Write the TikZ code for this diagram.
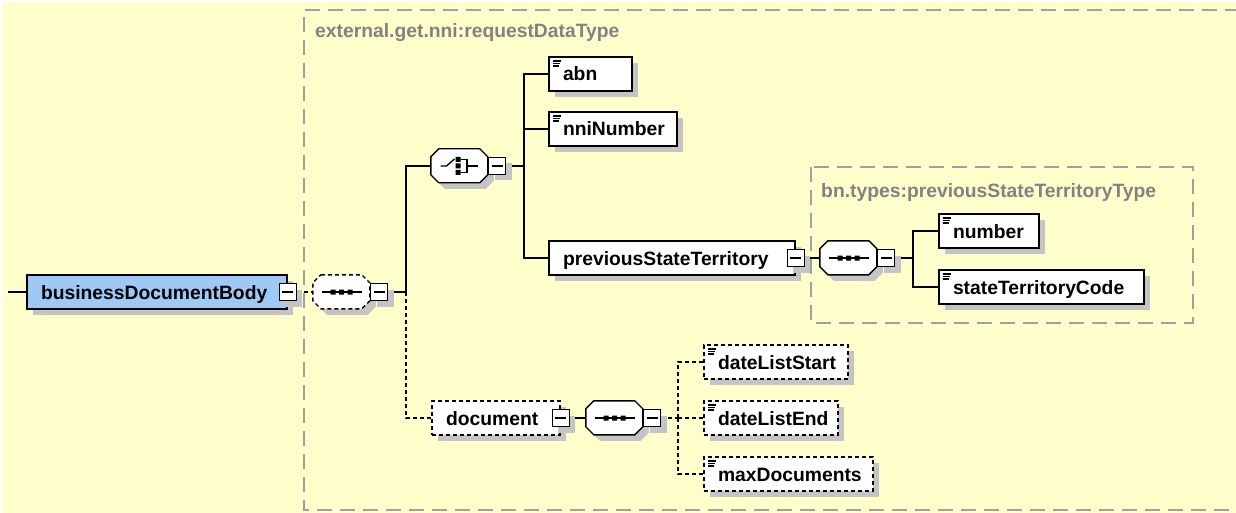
\documentclass[tikz,border=0pt]{standalone}
\usepackage{fontspec}
\setmainfont{Liberation Sans}
\usetikzlibrary{shadows}
\definecolor{bgyellow}{RGB}{255,255,204}
\definecolor{elblue}{RGB}{160,200,245}
\definecolor{shgray}{RGB}{196,196,196}
\definecolor{framegray}{RGB}{160,160,160}
\definecolor{labelgray}{RGB}{130,130,130}
\newcommand\elfont{\bfseries\fontsize{19.3}{22}\selectfont}
\pgfdeclarelayer{bg}
\pgfsetlayers{bg,main}
\tikzset{
 shd/.style={drop shadow={shadow xshift=6pt,shadow yshift=-6pt,fill=shgray,opacity=1}},
 elem/.style={draw,line width=1.4pt,fill=white,inner xsep=14pt,inner ysep=0pt,minimum height=34pt,align=left,font=\elfont,text height=16pt,text depth=2pt,shd},
 opt/.style={dash pattern=on 4pt off 3pt},
 leaf/.style={path picture={\draw[solid,line width=1.2pt] ([xshift=4pt,yshift=-4pt]path picture bounding box.north west) -- ++(8,0) ([xshift=4pt,yshift=-6.5pt]path picture bounding box.north west) -- ++(7,0) ([xshift=4pt,yshift=-9pt]path picture bounding box.north west) -- ++(6,0);}},
 minusbox/.style={draw,line width=1.2pt,fill=white,minimum size=17pt,inner sep=0pt,shd,path picture={\draw[solid,line width=1.2pt] ([xshift=3pt]path picture bounding box.west) -- ([xshift=-3pt]path picture bounding box.east);}},
 octbase/.style={minimum width=57pt,minimum height=34pt,inner sep=0pt},
 octline/.style={draw,line width=1.4pt,fill=white},
 conn/.style={line width=1.4pt},
 dconn/.style={line width=1.4pt,dash pattern=on 4pt off 3pt},
 frame/.style={draw=framegray,line width=1.6pt,dash pattern=on 15pt off 8pt},
 framelabel/.style={font=\elfont,text=labelgray,anchor=base west,inner sep=0pt},
}
\newcommand\mkocta[4]{%
 \node[octbase] (#1) at (#2,#3) {};
 \fill[shgray] ([xshift=6pt,yshift=-6pt]#1.north west) ++(8,0) -- ++(41,0) -- ++(8,8) -- ++(0,18) -- ++(-8,8) -- ++(-41,0) -- ++(-8,-8) -- ++(0,-18) -- cycle;
 \draw[octline,#4] (#1.north west) ++(8,0) -- ++(41,0) -- ++(8,8) -- ++(0,18) -- ++(-8,8) -- ++(-41,0) -- ++(-8,-8) -- ++(0,-18) -- cycle;
}
\newcommand\seqsym[1]{%
 \begin{scope}[shift={(#1.center)}]
  \draw[line width=1.4pt] (-20,0) -- (20,0);
  \fill (-11,-2.5) rectangle (-6,2.5) (-2.5,-2.5) rectangle (2.5,2.5) (6,-2.5) rectangle (11,2.5);
 \end{scope}}
\newcommand\choicesym[1]{%
 \begin{scope}[shift={(#1.center)}]
  \draw[line width=1.4pt] (-19,0) -- (-13,0) -- (-5,-7);
  \fill (-4,-9) rectangle (1,-4) (-4,-2.5) rectangle (1,2.5) (-4,4) rectangle (1,9);
  \draw[line width=1.4pt] (1,-6.5) -- (7.5,-6.5) -- (7.5,6.5) -- (1,6.5) (7.5,0) -- (18,0);
 \end{scope}}
\begin{document}
\begin{tikzpicture}[x=1pt,y=-1pt]
\useasboundingbox (0,0) rectangle (1236,513);
% elements
\node[elem,fill=elblue,text width=232pt] (bdb) at (157,292) {businessDocumentBody};
\node[minusbox] (bdbm) at (bdb.east) {};
\mkocta{s1}{341.5}{292}{opt}
\seqsym{s1}
\node[minusbox,anchor=west] (s1m) at (s1.east) {};
\mkocta{ch}{459.5}{166}{}
\choicesym{ch}
\node[minusbox,anchor=west] (chm) at (ch.east) {};
\node[elem,leaf,text width=55pt] (abn) at (590.5,74) {abn};
\node[elem,leaf,text width=100pt] (nni) at (613,129) {nniNumber};
\node[elem,text width=218pt] (pst) at (672,258) {previousStateTerritory};
\node[minusbox] (pstm) at (pst.east) {};
\mkocta{s2}{848.5}{258}{}
\seqsym{s2}
\node[minusbox,anchor=west] (s2m) at (s2.east) {};
\node[elem,leaf,text width=72pt] (num) at (989,231) {number};
\node[elem,leaf,text width=177pt] (stc) at (1041.5,287) {stateTerritoryCode};
\node[elem,opt,text width=100pt] (doc) at (496,418) {document};
\node[minusbox] (docm) at (doc.east) {};
\mkocta{s3}{614.5}{418}{}
\seqsym{s3}
\node[minusbox,anchor=west] (s3m) at (s3.east) {};
\node[elem,opt,leaf,text width=116pt] (dls) at (776,362) {dateListStart};
\node[elem,opt,leaf,text width=106pt] (dle) at (771,418) {dateListEnd};
\node[elem,opt,leaf,text width=141pt] (mxd) at (788.5,474) {maxDocuments};
% junctions
\coordinate (start) at (8,292);
\coordinate (j1) at (406,292);
\coordinate (j2) at (524,166);
\coordinate (j3) at (913,258);
\coordinate (j4) at (678,418);
\begin{pgfonlayer}{bg}
 \fill[white] (0,0) rectangle (1236,513);
 \fill[bgyellow] (2,2) rectangle (1236,513);
 \draw[frame] (1240,10) -- (304,10) -- (304,510) -- (1240,510);
 \draw[frame] (811,167) rectangle (1193,323);
 \node[framelabel] (lab1) at (315,38) {external.get.nni:requestDataType};
 \node[framelabel] (lab2) at (821,197) {bn.types:previousStateTerritoryType};
 \draw[conn] (start) -- (bdb.west);
 \draw[dconn] (bdbm.east) -- (s1.west);
 \draw[conn] (s1m.east) -- (j1);
 \draw[conn] (j1) |- (ch.west);
 \draw[dconn] (j1) |- (doc.west);
 \draw[conn] (chm.east) -- (j2);
 \draw[conn] (j2) |- (abn.west);
 \draw[conn] (j2) |- (nni.west);
 \draw[conn] (j2) |- (pst.west);
 \draw[conn] (pstm.east) -- (s2.west);
 \draw[conn] (s2m.east) -- (j3);
 \draw[conn] (j3) |- (num.west);
 \draw[conn] (j3) |- (stc.west);
 \draw[conn] (docm.east) -- (s3.west);
 \draw[dconn] (s3m.east) -- (j4);
 \draw[dconn] (j4) |- (dls.west);
 \draw[dconn] (j4) |- (dle.west);
 \draw[dconn] (j4) |- (mxd.west);
\end{pgfonlayer}
\end{tikzpicture}
\end{document}
